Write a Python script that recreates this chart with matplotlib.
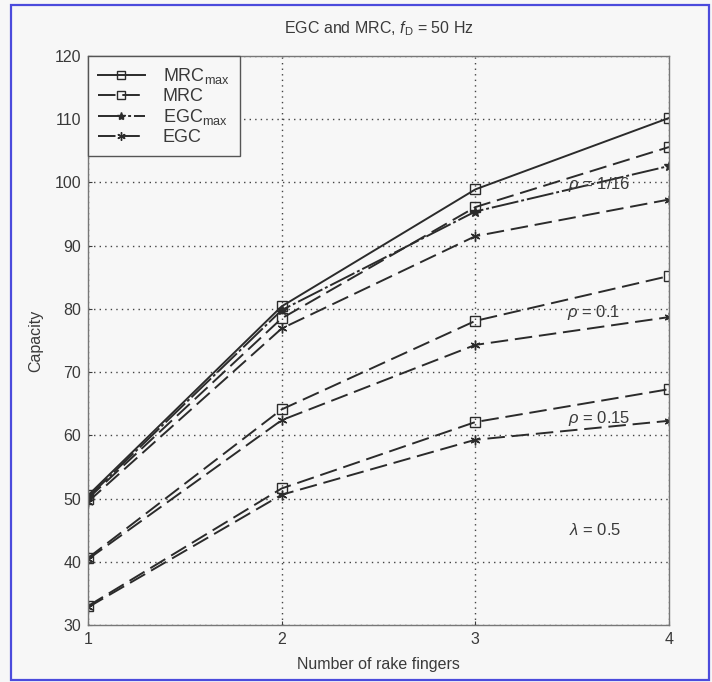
import matplotlib
matplotlib.use("Agg")
import matplotlib.pyplot as plt
from matplotlib.patches import Rectangle
from matplotlib.lines import Line2D

plt.rcParams['font.family'] = ['Liberation Sans', 'DejaVu Sans']
plt.rcParams['mathtext.fontset'] = 'custom'
plt.rcParams['mathtext.rm'] = 'Liberation Sans'
plt.rcParams['mathtext.it'] = 'Liberation Sans:italic'

# ---- data ----
fingers = [1, 2, 3, 4]
# rho = 1/16
mrc_max_116 = [50.5, 80.4, 98.9, 110.2]
mrc_116 = [50.0, 78.5, 96.1, 105.6]
egc_max_116 = [50.2, 79.8, 95.4, 102.6]
egc_116 = [49.5, 76.9, 91.5, 97.3]
# rho = 0.1
mrc_01 = [40.6, 64.1, 78.1, 85.2]
egc_01 = [40.4, 62.4, 74.3, 78.7]
# rho = 0.15
mrc_015 = [33.0, 51.6, 62.1, 67.3]
egc_015 = [32.8, 50.6, 59.3, 62.3]

xticks = [1, 2, 3, 4]
yticks = [30, 40, 50, 60, 70, 80, 90, 100, 110, 120]

title = r"EGC and MRC, $f_{\mathrm{D}}$ = 50 Hz"
xlabel = "Number of rake fingers"
ylabel = "Capacity"
labels = [r"MRC$_{\mathrm{max}}$", "MRC", r"EGC$_{\mathrm{max}}$", "EGC"]
annotations = [(3.64, 99.6, r"$\rho$ = 1/16"), (3.61, 79.5, r"$\rho$ = 0.1"),
               (3.64, 62.7, r"$\rho$ = 0.15"), (3.62, 45.0, r"$\lambda$ = 0.5")]

# ---- styles ----
lc = '#2b2b2b'
bg = '#f7f7f7'
txt = '#3a3a3a'
st_mrcmax = dict(color=lc, lw=1.4, ls='-', marker='s', mfc='none', mec=lc, ms=7, mew=1.0)
st_mrc = dict(color=lc, lw=1.4, ls=(0, (9, 3.5)), marker='s', mfc='none', mec=lc, ms=7, mew=1.0)
st_egcmax = dict(color=lc, lw=1.4, ls=(0, (14, 1.5, 1.5, 1.5)), marker='*', mfc=lc, mec=lc, ms=7)
st_egc = dict(color=lc, lw=1.4, ls=(0, (9, 3.5)), marker=(6, 2, 0), mec=lc, ms=7, mew=1.0)

fig = plt.figure(figsize=(7.12, 6.82), dpi=100, facecolor=bg)
ax = fig.add_axes([88/712, 1-625/682, (669-88)/712, (625-56)/682])
ax.set_facecolor(bg)

ax.plot(fingers, mrc_max_116, **st_mrcmax)
ax.plot(fingers, mrc_116, **st_mrc)
ax.plot(fingers, egc_max_116, **st_egcmax)
ax.plot(fingers, egc_116, **st_egc)
ax.plot(fingers, mrc_01, **st_mrc)
ax.plot(fingers, egc_01, **st_egc)
ax.plot(fingers, mrc_015, **st_mrc)
ax.plot(fingers, egc_015, **st_egc)

ax.set_xlim(1, 4)
ax.set_ylim(30, 120)
ax.set_xticks(xticks)
ax.set_yticks(yticks)
ax.grid(True, ls=(0, (1, 3)), color='#444444', lw=1.0)
ax.tick_params(direction='in', length=3, labelsize=11.5, colors=txt, pad=5)
for s in ax.spines.values():
    s.set_color('#777777')
    s.set_linewidth(1.0)

for x, y, t in annotations:
    ax.text(x, y, t, ha='center', va='center', fontsize=12, color=txt)

ax.set_title(title, fontsize=11.5, color=txt, pad=16)
ax.set_xlabel(xlabel, fontsize=11.5, color=txt, labelpad=7)
ax.set_ylabel(ylabel, fontsize=11.5, color=txt, labelpad=8)

handles = [Line2D([], [], **st_mrcmax), Line2D([], [], **st_mrc),
           Line2D([], [], **st_egcmax), Line2D([], [], **st_egc)]
for h in handles:
    h.set_markersize(6)
leg = ax.legend(handles, labels, loc='upper left', borderaxespad=0, fontsize=13,
                fancybox=False, framealpha=1, facecolor=bg, edgecolor='#555555',
                handlelength=2.6, labelspacing=0.12, borderpad=0.55, handletextpad=1.0,
                labelcolor=txt)
leg.get_frame().set_linewidth(1.0)

fig.patches.append(Rectangle((11/712, 2/682), 698/712, 675/682, transform=fig.transFigure,
                             fill=False, edgecolor='#4b4bdc', lw=1.6))

fig.savefig('out.png', dpi=100, facecolor=bg)
